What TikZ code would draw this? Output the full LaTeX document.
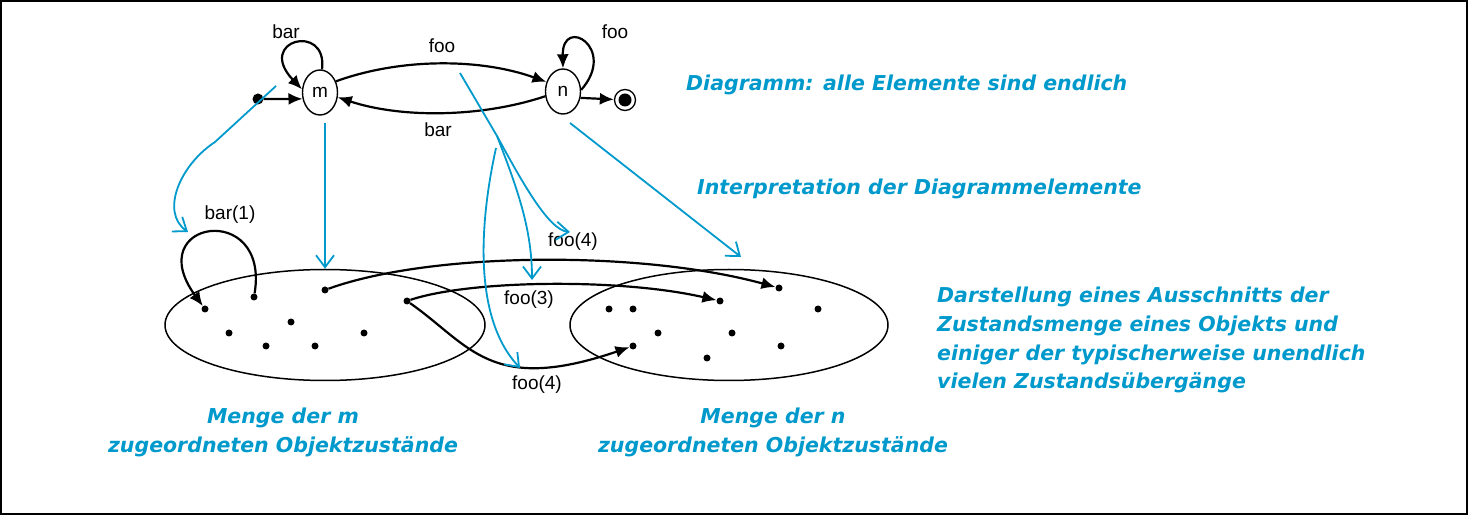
\documentclass[tikz,border=0pt]{standalone}
\usepackage{fontspec}
\setmainfont{Liberation Sans}
\newfontfamily\comicfont{DejaVu Sans}
\usetikzlibrary{arrows.meta,shapes.geometric}
\definecolor{intblue}{RGB}{0,153,204}
\tikzset{
  state/.style={ellipse,draw,line width=1.4pt,minimum width=35pt,minimum height=45pt,inner sep=0pt,font=\fontsize{19}{22}\selectfont},
  dot/.style={circle,fill,inner sep=0pt,minimum size=7pt},
  trans/.style={line width=2.2pt,-{Latex[length=14pt,width=12pt]}},
  interp/.style={color=intblue,line width=1.8pt,-{Straight Barb[length=12pt,width=18pt]}},
  lbl/.style={font=\fontsize{19}{22}\selectfont},
  note/.style={color=intblue,inner sep=0pt,font=\comicfont\bfseries\itshape\fontsize{20.5}{28.7}\selectfont}
}

\begin{document}
\begin{tikzpicture}[x=1pt,y=-1pt]
\useasboundingbox (0,0) rectangle (1470,518);
\draw[line width=2pt] (1,1) rectangle (1467,514);

% diagram
\node[dot,minimum size=11pt] (init) at (258,99) {};
\node[state] (m) at (320,92.5) {m};
\node[state] (n) at (563,91.5) {n};
\node[circle,draw,line width=1.3pt,minimum size=21pt,inner sep=0pt,
  path picture={\fill (path picture bounding box.center) circle (6.5pt);}] (fin) at (625,100) {};
\draw[trans] (init) -- (m.200);
\draw[trans] (n.-20) -- (fin);
\draw[trans] (m.35) .. controls (400,58) and (480,58) .. (n.150);
\draw[trans] (n.195) .. controls (480,118) and (400,118) .. (m.-15);
\draw[trans] (m.85) .. controls (328,22) and (255,40) .. (m.170);
\draw[trans] (n.5) .. controls (618,48) and (562,15) .. (n.90);
\node[lbl] (lbar) at (286,32) {bar};
\node[lbl] (lfoo) at (442,46) {foo};
\node[lbl] (lbarb) at (438,130) {bar};
\node[lbl] (lfoob) at (615,32) {foo};

% Zustandsmengen
\node[ellipse,draw,line width=1.5pt,minimum width=320pt,minimum height=111pt] (Lset) at (325,325) {};
\node[ellipse,draw,line width=1.5pt,minimum width=318pt,minimum height=111pt] (Rset) at (729,325) {};
\foreach \i/\x/\y in {1/205/309, 2/254/297, 3/325/290, 4/407/301, 5/291/322, 6/229/333, 7/266/346, 8/315/346, 9/364/333}
  \node[dot] (l\i) at (\x,\y) {};
\foreach \i/\x/\y in {1/779/288, 2/720/301, 3/633/346, 4/609/309, 5/633/309, 6/818/309, 7/658/333, 8/732/333, 9/781/346, 10/707/358}
  \node[dot] (r\i) at (\x,\y) {};
\draw[trans] (l2) .. controls (270,200) and (140,220) .. (l1);
\draw[trans] (l3) .. controls (430,252) and (640,250) .. (r1);
\draw[trans] (l4) .. controls (470,280) and (620,278) .. (r2);
\draw[trans] (l4) .. controls (470,345) and (490,395) .. (r3);
\node[lbl] (lbarone) at (230,215) {bar(1)};
\node[lbl] (lfoofour) at (573,242) {foo(4)};
\node[lbl] (lfoothree) at (529,300) {foo(3)};
\node[lbl] (lfoofourb) at (537,385) {foo(4)};

% Interpretation
\coordinate (iInit) at (276,86);
\coordinate (iLset) at (188,232);
\draw[interp] (iInit) -- (215,142) .. controls (180,165) and (160,212) .. (iLset);
\coordinate (iM) at (325,123);
\draw[interp] (iM) -- (Lset.north);
\coordinate (iFoo) at (460,73);
\coordinate (fork) at (497,136);
\draw[color=intblue,line width=1.8pt] (iFoo) -- (fork);
\coordinate (iFooA) at (570,232);
\coordinate (iFooB) at (532,280);
\draw[interp] (fork) .. controls (520,178) and (548,230) .. (iFooA);
\draw[interp] (fork) .. controls (518,190) and (532,230) .. (iFooB);
\coordinate (iBar) at (496,148);
\coordinate (iFooC) at (520,368);
\draw[interp] (iBar) .. controls (478,230) and (475,320) .. (iFooC);
\coordinate (iN) at (570,123);
\coordinate (iRset) at (741,257);
\draw[interp] (iN) -- (iRset);

% Texte
\node[note,anchor=base west] (tDiag) at (686,91) {Diagramm: alle Elemente sind endlich};
\node[note,anchor=base west] (tInt) at (697,195) {Interpretation der Diagrammelemente};
\node[note,anchor=north west,align=left] (tSet) at (937,287) {Darstellung eines Ausschnitts der\\Zustandsmenge eines Objekts und\\einiger der typischerweise unendlich\\vielen Zustands\"ubergänge};
\node[note,anchor=north,align=center] (tMset) at (283,408) {Menge der m\\zugeordneten Objektzust\"ande};
\node[note,anchor=north,align=center] (tNset) at (773,408) {Menge der n\\zugeordneten Objektzust\"ande};
\end{tikzpicture}
\end{document}
